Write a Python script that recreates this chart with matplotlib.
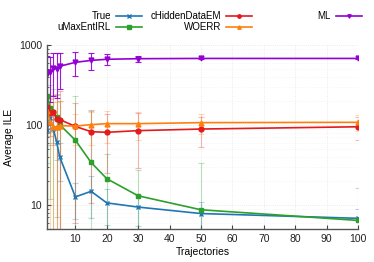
import numpy as np
import matplotlib
matplotlib.use('Agg')
import matplotlib.pyplot as plt

plt.rcParams['font.family'] = ['Liberation Sans', 'DejaVu Sans']

traj = [1, 2, 3, 4, 5, 10, 15, 20, 30, 50, 100]

true_y = [87, 122, 89, 62, 40, 12.6, 14.8, 10.6, 9.4, 7.8, 6.8]
true_e = [30, 40, 30, 25, 20, 6, 8, 5, 4, 3, 2]

umax_y = [233, 162, 145, 127, 101, 64.5, 34, 21.3, 13, 8.7, 6.4]
umax_e = [200, 150, 140, 120, 100, 165, 116, 22, 14, 25, 10]

chid_y = [168, 142, 146, 119, 117, 96, 82.5, 81, 85, 89, 95]
chid_e = [60, 70, 90, 120, 150, 90, 72, 56, 56, 36, 30]

woerr_y = [150, 109, 95, 95, 98, 97, 101, 104, 104, 107, 108]
woerr_e = [70, 110, 100, 100, 100, 40, 45, 45, 40, 30, 25]

ml_y = [436, 455, 510, 505, 543, 608, 643, 664, 675, 680, 680]
ml_e = [300, 260, 280, 290, 260, 200, 160, 100, 60, 15, 12]

fig = plt.figure(figsize=(3.74, 2.62), dpi=100)
ax = fig.add_axes([0.126, 0.126, 0.831, 0.702])

series = [
    ('True', true_y, true_e, '#1f77b4', 'x', 0.3),
    ('uMaxEntIRL', umax_y, umax_e, '#2ca02c', 's', 0.3),
    ('cHiddenDataEM', chid_y, chid_e, '#e41a1c', 'o', 0.3),
    ('WOERR', woerr_y, woerr_e, '#ff7f0e', '^', 0.3),
    ('ML', ml_y, ml_e, '#9400d3', 'v', 0.9),
]

for name, y, e, c, m, a in series:
    ax.errorbar(traj, y, yerr=e, fmt='none', ecolor=c, elinewidth=0.8,
                capsize=2, capthick=0.8, alpha=a)
handles = []
for name, y, e, c, m, a in series:
    h, = ax.plot(traj, y, color=c, marker=m, markersize=3.5, linewidth=1.2,
                 markeredgewidth=1.0, label=name)
    handles.append(h)

ax.set_yscale('log')
ax.set_xlim(1, 100)
ax.set_ylim(5, 1000)
ax.set_xticks([10, 20, 30, 40, 50, 60, 70, 80, 90, 100])
ax.set_yticks([10, 100, 1000])
ax.set_yticklabels(['10', '100', '1000'])
ax.tick_params(which='both', direction='in', labelsize=7.5, colors='#444444',
               labelcolor='#222222')
ax.tick_params(which='major', length=3)
ax.tick_params(which='minor', length=1.5)
ax.tick_params(axis='x', which='minor', bottom=False)
ax.grid(True, which='major', color='#e4e4e4', linestyle=':', linewidth=0.6)
ax.grid(True, which='minor', axis='y', color='#f0f0f0', linestyle=':', linewidth=0.5)
for s in ['top', 'right']:
    ax.spines[s].set_visible(False)
for s in ['left', 'bottom']:
    ax.spines[s].set_color('#555555')
    ax.spines[s].set_linewidth(1.0)

ax.set_xlabel('Trajectories', fontsize=7.5, labelpad=2)
ax.set_ylabel('Average ILE', fontsize=7.5, labelpad=4)

# gnuplot-like key: three equal-width columns
groups = [(handles[0:2], 142), (handles[2:4], 252), (handles[4:5], 362)]
for hs, xr in groups:
    leg = fig.legend(handles=hs, loc='upper right',
                     bbox_to_anchor=(xr / 374, 1 - 11 / 262),
                     markerfirst=False, frameon=False, fontsize=7,
                     handlelength=2.7, handletextpad=0.5, labelspacing=0.15,
                     markerscale=0.7, borderpad=0, borderaxespad=0)
    for t in leg.get_texts():
        t.set_ha('right')

fig.savefig('out.png', dpi=100)
